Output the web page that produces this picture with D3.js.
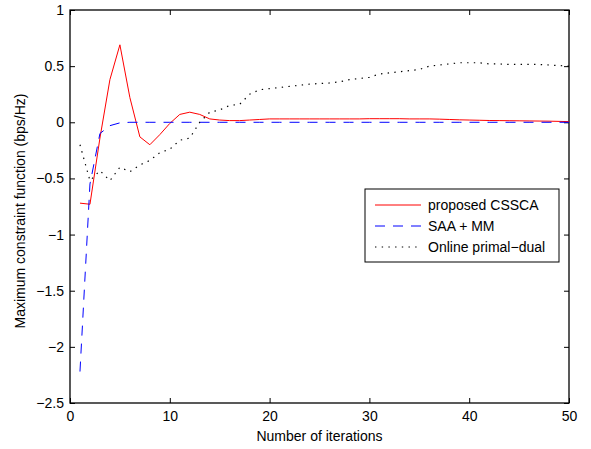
<!DOCTYPE html>
<html>
<head>
<meta charset="utf-8">
<script src="https://cdn.jsdelivr.net/npm/d3@7"></script>
<style>
  html, body { margin: 0; padding: 0; background: #fff; }
  svg { display: block; font-family: "Liberation Sans", Arial, Helvetica, sans-serif; }
</style>
</head>
<body>
<svg id="chart" width="591" height="449"></svg>
<script>
// ---- data ----
const iterations = [1,2,3,4,5,6,7,8,9,10,11,12,13,14,15,16,17,18,19,20,21,22,23,24,25,26,27,28,29,30,31,32,33,34,35,36,37,38,39,40,41,42,43,44,45,46,47,48,49,50];
const cssca = [-0.72,-0.73,-0.14,0.38,0.69,0.22,-0.13,-0.2,-0.11,-0.01,0.07,0.09,0.07,0.03,0.02,0.015,0.015,0.02,0.025,0.03,0.03,0.03,0.03,0.03,0.03,0.03,0.03,0.03,0.03,0.032,0.032,0.032,0.032,0.03,0.03,0.03,0.028,0.025,0.022,0.02,0.018,0.016,0.015,0.014,0.013,0.012,0.011,0.01,0.008,0.006];
const saaMM = [-2.22,-0.55,-0.1,-0.03,-0.005,0,0,0,0,0,0,0,0,0,0,0,0,0,0,0,0,0,0,0,0,0,0,0,0,0,0,0,0,0,0,0,0,0,0,0,0,0,0,0,0,0,0,0,0,0];
const primalDual = [-0.2,-0.52,-0.43,-0.52,-0.4,-0.44,-0.38,-0.34,-0.27,-0.24,-0.16,-0.14,0.0,0.09,0.11,0.15,0.16,0.25,0.29,0.3,0.31,0.32,0.33,0.34,0.345,0.35,0.36,0.38,0.39,0.4,0.43,0.44,0.45,0.46,0.47,0.5,0.51,0.52,0.53,0.53,0.53,0.52,0.52,0.515,0.515,0.515,0.515,0.51,0.505,0.5];
const xTicks = [0,10,20,30,40,50];
const yTicks = [-2.5,-2,-1.5,-1,-0.5,0,0.5,1];
const seriesNames = ["proposed CSSCA","SAA + MM","Online primal\u2212dual"];
const xLabel = "Number of iterations";
const yLabel = "Maximum constraint function (bps/Hz)";

// ---- layout ----
const L = 70, R = 569, T = 10, B = 403;
const svg = d3.select("#chart");
const x = d3.scaleLinear().domain([0,50]).range([L,R]);
const y = d3.scaleLinear().domain([-2.5,1]).range([B,T]);
const fmt = d3.format("~g");
const fs = 14;

// axes (inward ticks, MATLAB style)
const gB = svg.append("g").attr("transform",`translate(0,${B})`)
  .call(d3.axisBottom(x).tickValues(xTicks).tickFormat(fmt).tickSizeInner(-5).tickSizeOuter(0).tickPadding(8));
const gT = svg.append("g").attr("transform",`translate(0,${T})`)
  .call(d3.axisTop(x).tickValues(xTicks).tickFormat("").tickSizeInner(-5).tickSizeOuter(0));
const gL = svg.append("g").attr("transform",`translate(${L},0)`)
  .call(d3.axisLeft(y).tickValues(yTicks).tickFormat(fmt).tickSizeInner(-5).tickSizeOuter(0).tickPadding(6));
const gR = svg.append("g").attr("transform",`translate(${R},0)`)
  .call(d3.axisRight(y).tickValues(yTicks).tickFormat("").tickSizeInner(-5).tickSizeOuter(0));
[gB,gT,gL,gR].forEach(g => {
  g.select(".domain").remove();
  g.selectAll(".tick line").attr("stroke","#000").attr("stroke-width",1);
  g.selectAll("text").attr("font-size",fs).attr("font-family","Liberation Sans, Arial, sans-serif").attr("fill","#000");
});
// box
svg.append("rect").attr("x",L).attr("y",T).attr("width",R-L).attr("height",B-T)
  .attr("fill","none").attr("stroke","#000").attr("stroke-width",1.3);

// lines
const line = d3.line().x((d,i)=>x(iterations[i])).y(d=>y(d));
const clip = svg.append("clipPath").attr("id","clip").append("rect")
  .attr("x",L).attr("y",T).attr("width",R-L).attr("height",B-T);
const styles = [
  {data: cssca, color:"#ff0000", dash:null, w:1},
  {data: saaMM, color:"#0000ff", dash:"10,8", w:1},
  {data: primalDual, color:"#000", dash:"1.4,5.3", w:1.2}
];
styles.forEach(s => {
  svg.append("path").attr("d", line(s.data)).attr("fill","none")
    .attr("stroke", s.color).attr("stroke-width", s.w)
    .attr("stroke-dasharray", s.dash).attr("clip-path","url(#clip)");
});

// legend
const lg = svg.append("g");
lg.append("rect").attr("x",365).attr("y",189).attr("width",194).attr("height",73)
  .attr("fill","#fff").attr("stroke","#000").attr("stroke-width",1);
seriesNames.forEach((name,i) => {
  const yy = 205 + i*21;
  const s = styles[i];
  lg.append("line").attr("x1",375).attr("x2",421).attr("y1",yy).attr("y2",yy)
    .attr("stroke",s.color).attr("stroke-width",s.w).attr("stroke-dasharray",s.dash);
  lg.append("text").attr("x",428).attr("y",yy).attr("dy","0.36em")
    .attr("font-size",fs).attr("fill","#000").text(name);
});

// axis labels
svg.append("text").attr("x",(L+R)/2).attr("y",441).attr("text-anchor","middle")
  .attr("font-size",fs).attr("fill","#000").text(xLabel);
svg.append("text").attr("transform",`translate(20,211) rotate(-90)`)
  .attr("text-anchor","middle").attr("dy","0.35em")
  .attr("font-size",fs).attr("fill","#000").text(yLabel);
</script>
</body>
</html>
